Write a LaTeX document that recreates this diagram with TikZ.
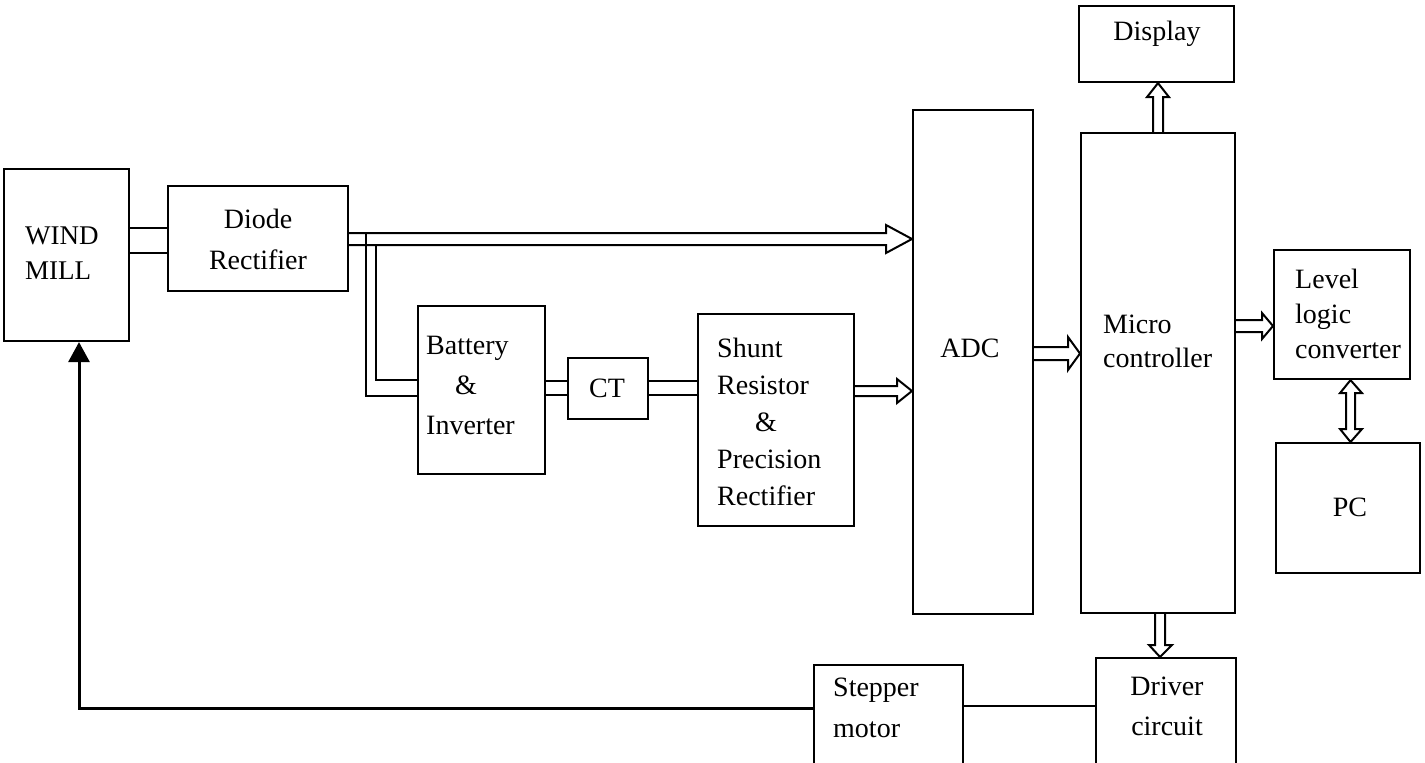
\documentclass[tikz,border=0pt]{standalone}
\usepackage{fontspec}
\setmainfont{Liberation Serif}
\usetikzlibrary{calc,arrows.meta}
% right-pointing open double arrow: from, to, ytop, ybot, flange top, flange bottom, tip y, head length
\newcommand{\myRarr}[8]{\draw[conn] (#1.east |- 0,#3) -- ($(#2.west |- 0,#3)+(-#8,0)$) -- ($(#2.west |- 0,#5)+(-#8,0)$) -- (#2.west |- 0,#7) -- ($(#2.west |- 0,#6)+(-#8,0)$) -- ($(#2.west |- 0,#4)+(-#8,0)$) -- (#1.east |- 0,#4);}
% upward open double arrow: from (below), to (above), xleft, xright, flange left, flange right, tip x, head length
\newcommand{\myUarr}[8]{\draw[conn] (#3,0 |- #1.north) -- ($(#3,0 |- #2.south)+(0,#8)$) -- ($(#5,0 |- #2.south)+(0,#8)$) -- (#7,0 |- #2.south) -- ($(#6,0 |- #2.south)+(0,#8)$) -- ($(#4,0 |- #2.south)+(0,#8)$) -- (#4,0 |- #1.north);}
% downward open double arrow
\newcommand{\myDarr}[8]{\draw[conn] (#3,0 |- #1.south) -- ($(#3,0 |- #2.north)+(0,-#8)$) -- ($(#5,0 |- #2.north)+(0,-#8)$) -- (#7,0 |- #2.north) -- ($(#6,0 |- #2.north)+(0,-#8)$) -- ($(#4,0 |- #2.north)+(0,-#8)$) -- (#4,0 |- #1.south);}
\begin{document}
\begin{tikzpicture}[x=1pt,y=-1pt,
  box/.style={draw, line width=2.1pt, inner sep=0pt, anchor=north west},
  txt/.style={font=\fontsize{28pt}{37pt}\selectfont, inner sep=0pt},
  conn/.style={line width=2pt, line join=miter}]
\useasboundingbox (0,0) rectangle (1425,763);
\clip (0,0) rectangle (1425,763);
\fill[white] (0,0) rectangle (1425,763);
% boxes
\node[box, minimum width=125pt, minimum height=172pt] (wm) at (3,168) {};
\node[box, minimum width=180pt, minimum height=105pt] (diode) at (167,185) {};
\node[box, minimum width=127pt, minimum height=168pt] (batt) at (417,305) {};
\node[box, minimum width=80pt, minimum height=61pt] (ct) at (567,357) {};
\node[box, minimum width=156pt, minimum height=212pt] (shunt) at (697,313) {};
\node[box, minimum width=120pt, minimum height=504pt] (adc) at (912,109) {};
\node[box, minimum width=154pt, minimum height=480pt] (micro) at (1080,132) {};
\node[box, minimum width=155pt, minimum height=76pt] (disp) at (1078,5) {};
\node[box, minimum width=136pt, minimum height=129pt] (level) at (1273,249) {};
\node[box, minimum width=144pt, minimum height=130pt] (pc) at (1275,442) {};
\node[box, minimum width=140pt, minimum height=130pt] (driver) at (1095,657) {};
\node[box, minimum width=149pt, minimum height=120pt] (stepper) at (813,664) {};
% texts
\node[txt, font=\fontsize{27pt}{35pt}\selectfont, align=left, anchor=west] (wmt) at (25,253) {WIND\\MILL};
\node[txt, font=\fontsize{28pt}{41pt}\selectfont, align=center] (dt) at (258,239) {Diode\\Rectifier};
\node[txt, font=\fontsize{28pt}{40pt}\selectfont, align=left, anchor=west] (bt) at (426,385) {Battery\\\hspace*{29pt}\&\\Inverter};
\node[txt] (ctt) at (607,388) {CT};
\node[txt, align=left, anchor=west] (st) at (717,422) {Shunt\\Resistor\\\hspace*{38pt}\&\\Precision\\Rectifier};
\node[txt] (adct) at (970,348) {ADC};
\node[txt, font=\fontsize{28pt}{34pt}\selectfont, align=left, anchor=west] (mt) at (1103,341) {Micro\\controller};
\node[txt] (dispt) at (1157,34) {Display};
\node[txt, font=\fontsize{28pt}{35pt}\selectfont, align=left, anchor=west] (lt) at (1295,314) {Level\\logic\\converter};
\node[txt] (pct) at (1350,507) {PC};
\node[txt, font=\fontsize{28pt}{40pt}\selectfont, align=center] (drt) at (1167,706) {Driver\\circuit};
\node[txt, font=\fontsize{28pt}{41pt}\selectfont, align=left, anchor=west] (stt) at (833,708) {Stepper\\motor};
% connectors
\draw[conn] (wm.east |- 0,228) -- (diode.west |- 0,228);
\draw[conn] (wm.east |- 0,253) -- (diode.west |- 0,253);
\myRarr{diode}{adc}{233}{245}{225}{253}{239}{26}
\coordinate (j1) at (366,233);
\coordinate (j2) at (376,245);
\draw[conn] (j1) |- (batt.west |- 0,396);
\draw[conn] (j2) |- (batt.west |- 0,380);
\draw[conn] (batt.east |- 0,381) -- (ct.west |- 0,381);
\draw[conn] (batt.east |- 0,395) -- (ct.west |- 0,395);
\draw[conn] (ct.east |- 0,381) -- (shunt.west |- 0,381);
\draw[conn] (ct.east |- 0,395) -- (shunt.west |- 0,395);
\myRarr{shunt}{adc}{386}{396}{379}{403}{391}{15}
\myRarr{adc}{micro}{347}{360}{337}{370}{353.5}{12}
\myRarr{micro}{level}{320}{332}{313}{339}{326}{11}
\myUarr{micro}{disp}{1153}{1163}{1147}{1169}{1158}{14}
\myDarr{micro}{driver}{1155}{1165}{1149}{1172}{1160}{12}
\draw[conn] (1350.5,0 |- level.south) -- ($(1362,0 |- level.south)+(0,13)$) -- ($(1355,0 |- level.south)+(0,13)$) -- ($(1355,0 |- pc.north)+(0,-13)$) -- ($(1362,0 |- pc.north)+(0,-13)$) -- (1350.5,0 |- pc.north) -- ($(1340,0 |- pc.north)+(0,-13)$) -- ($(1346,0 |- pc.north)+(0,-13)$) -- ($(1346,0 |- level.south)+(0,13)$) -- ($(1340,0 |- level.south)+(0,13)$) -- cycle;
\draw[conn] (stepper.east |- 0,706) -- (driver.west |- 0,706);
\draw[line width=3pt, -{Triangle[width=21pt,length=20pt]}] (stepper.west |- 0,708) -| (79,0 |- wm.south);
\end{tikzpicture}
\end{document}
